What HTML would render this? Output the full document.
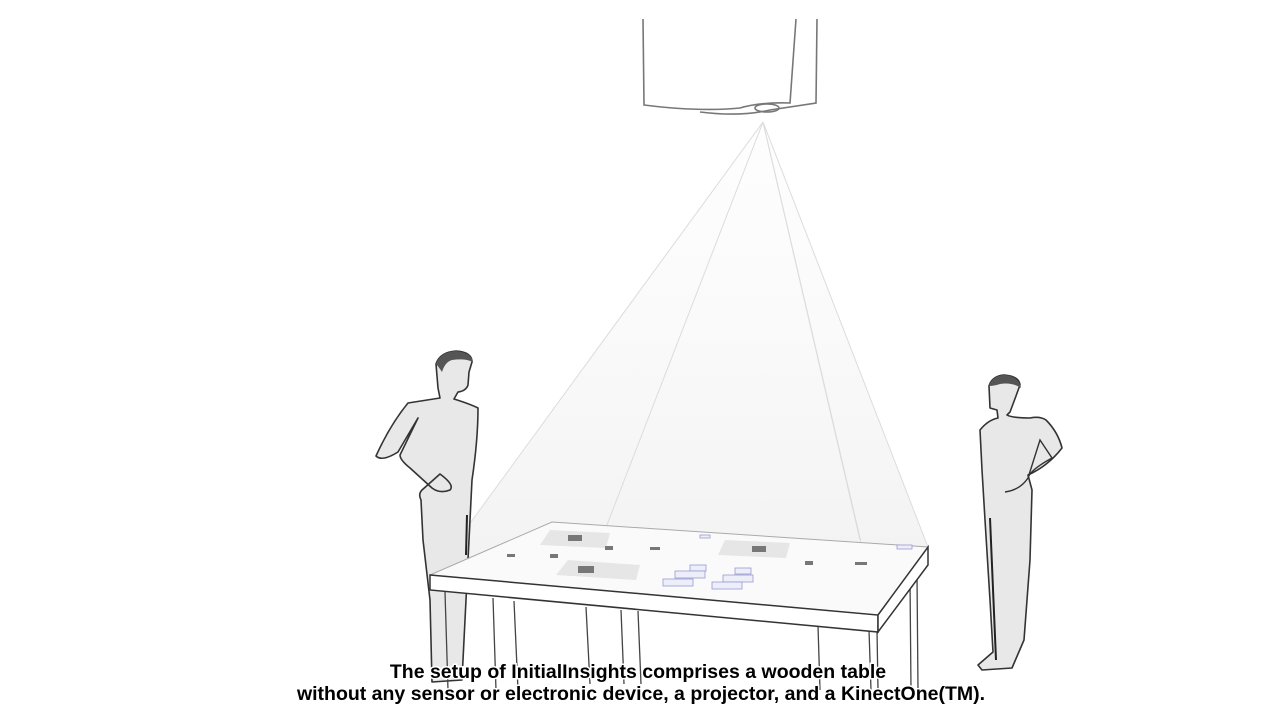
<!DOCTYPE html>
<html><head><meta charset="utf-8"><style>
html,body{margin:0;padding:0;background:#fff;}
svg{display:block}
text{font-family:"Liberation Sans",sans-serif;font-weight:bold;font-size:19.5px;}
</style></head><body>
<svg width="1280" height="720" viewBox="0 0 1280 720">
<defs>
<linearGradient id="cone" x1="0" y1="0" x2="0" y2="1">
<stop offset="0" stop-color="#f8f8f8" stop-opacity="0.2"/>
<stop offset="1" stop-color="#eaeaea" stop-opacity="0.7"/>
</linearGradient>
</defs>
<g fill="none" stroke="#777" stroke-width="1.6">
<path d="M643,19 L644,105 Q700,112 740,108 Q760,102 790,103 L796,19"/>
<path d="M817,19 L816,103 Q790,107 770,110 Q740,117 700,112"/>
<ellipse cx="767" cy="108" rx="12" ry="4"/>
</g>
<polygon points="763,122 430,578 878,615 928,547" fill="url(#cone)"/>
<g stroke="#dcdcdc" stroke-width="1" fill="none">
<line x1="763" y1="122" x2="430" y2="578"/>
<line x1="763" y1="122" x2="598" y2="548"/>
<line x1="763" y1="122" x2="860" y2="540"/>
<line x1="763" y1="122" x2="928" y2="547"/>
<line x1="763" y1="122" x2="878" y2="615"/>
</g>
<!-- left person -->
<path d="M436,364 Q440,352 456,351 Q472,352 472,362 L469,372 L468,385 Q466,391 458,392 L454,399 Q470,404 478,408 Q478,440 472,480 L468,560 L462,680 L432,682 L430,600 L423,540 L421,500 Q418,494 422,490 L440,474 Q455,485 450,490 Q440,494 432,488 L410,468 Q400,460 400,455 L418,418 L398,452 Q382,462 376,456 Q390,425 408,403 L440,398 L438,388 Z" fill="#e8e8e8" stroke="#333" stroke-width="1.6" stroke-linejoin="round"/>
<path d="M436,364 Q440,352 456,351 Q472,353 473,362 Q465,358 452,360 Q445,362 442,372 Q438,366 436,364Z" fill="#555"/>
<line x1="467" y1="515" x2="466" y2="555" stroke="#222" stroke-width="2"/>
<!-- right person -->
<path d="M989,386 Q992,376 1004,375 Q1019,376 1020,385 L1016,396 L1010,412 L1007,415 Q1012,418 1030,418 Q1040,416 1046,420 Q1058,432 1062,448 Q1048,466 1028,475 L1032,490 L1030,560 L1024,640 L1012,668 L982,670 L978,665 L993,652 L990,600 L985,520 L982,470 L980,430 Q988,420 998,418 L997,410 L990,408 Z" fill="#e8e8e8" stroke="#333" stroke-width="1.6" stroke-linejoin="round"/>
<path d="M1005,492 Q1020,490 1028,478 L1040,440 L1052,458 Q1030,470 1028,478" fill="#e8e8e8" stroke="#333" stroke-width="1.4"/>
<path d="M989,386 Q992,376 1004,375 Q1019,376 1021,388 Q1012,382 1000,384 Q994,386 989,386Z" fill="#555"/>
<line x1="990" y1="518" x2="996" y2="660" stroke="#222" stroke-width="2"/>
<g stroke="#444" stroke-width="1.3" fill="none">
<line x1="445" y1="592" x2="448" y2="690"/>
<line x1="493" y1="598" x2="496" y2="690"/>
<line x1="514" y1="601" x2="518" y2="690"/>
<line x1="586" y1="607" x2="590" y2="684"/>
<line x1="621" y1="610" x2="624" y2="684"/>
<line x1="638" y1="611" x2="641" y2="684"/>
<line x1="818" y1="626" x2="820" y2="690"/>
<line x1="869" y1="630" x2="871" y2="690"/>
<line x1="877" y1="630" x2="878" y2="690"/>
<line x1="910" y1="580" x2="911" y2="690"/>
<line x1="917" y1="575" x2="918" y2="690"/>
</g>
<polygon points="552,522 928,547 878,615 430,575" fill="#fafafa" stroke="#aaa" stroke-width="1"/>
<polygon points="430,575 878,615 878,632 430,590" fill="#fff" stroke="#333" stroke-width="1.5"/>
<polygon points="878,615 928,547 928,565 878,632" fill="#fff" stroke="#333" stroke-width="1.5"/>
<g fill="#e6e6e6">
<polygon points="550,530 610,533 606,548 540,545"/>
<polygon points="725,540 790,543 786,558 718,555"/>
<polygon points="568,560 640,565 636,580 556,575"/>
</g>
<g fill="#777">
<rect x="568" y="535" width="14" height="6"/><rect x="752" y="546" width="14" height="6"/>
<rect x="578" y="566" width="16" height="7"/><rect x="605" y="546" width="8" height="4"/>
<rect x="805" y="561" width="8" height="4"/><rect x="550" y="554" width="8" height="4"/>
<rect x="507" y="554" width="8" height="3"/><rect x="650" y="547" width="10" height="3"/>
<rect x="855" y="562" width="12" height="3"/>
</g>
<g fill="#eceefa" stroke="#9a9ad0" stroke-width="0.8">
<rect x="690" y="565" width="16" height="6"/><rect x="735" y="568" width="16" height="6"/>
<rect x="675" y="571" width="30" height="7"/><rect x="723" y="575" width="30" height="7"/>
<rect x="663" y="579" width="30" height="7"/><rect x="712" y="582" width="30" height="7"/>
<rect x="700" y="535" width="10" height="3"/><rect x="897" y="545" width="15" height="4"/>
</g>
<g text-anchor="middle" fill="#000" stroke="#fff" stroke-width="3" paint-order="stroke">
<text x="638" y="678">The setup of InitialInsights comprises a wooden table</text>
<text x="641" y="700">without any sensor or electronic device, a projector, and a KinectOne(TM).</text>
</g>
</svg>
</body></html>
